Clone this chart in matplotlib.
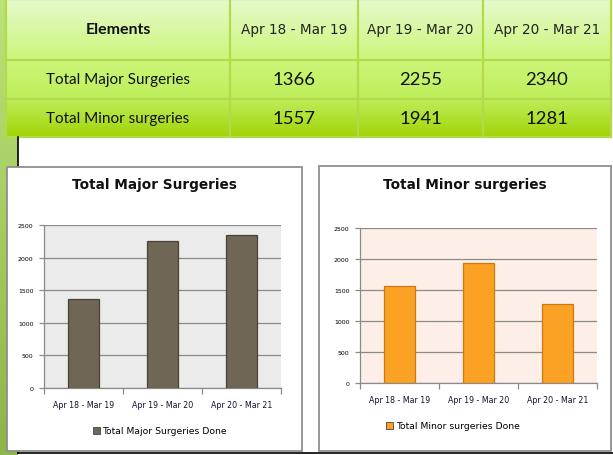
import matplotlib
matplotlib.use("Agg")
import matplotlib.pyplot as plt
import numpy as np
from matplotlib.patches import Rectangle

periods = ["Apr 18 - Mar 19", "Apr 19 - Mar 20", "Apr 20 - Mar 21"]
row_labels = ["Total Major Surgeries", "Total Minor surgeries"]
major = [1366, 2255, 2340]
minor = [1557, 1941, 1281]
header_first = "Elements"
title_major = "Total Major Surgeries"
title_minor = "Total Minor surgeries"
legend_major = "Total Major Surgeries Done"
legend_minor = "Total Minor surgeries Done"
yticks = [0, 500, 1000, 1500, 2000, 2500]

W, H = 613, 456
fig = plt.figure(figsize=(W / 100, H / 100), dpi=100)
fig.patch.set_facecolor("white")

bg = fig.add_axes([0, 0, 1, 1])
bg.set_xlim(0, W)
bg.set_ylim(H, 0)
bg.axis("off")

# left green strip
strip = np.zeros((100, 1, 3))
c_top = np.array([188, 226, 122]) / 255
c_bot = np.array([140, 182, 72]) / 255
for i in range(100):
    t = i / 99
    strip[i, 0] = c_top * (1 - t) + c_bot * t
bg.imshow(strip, extent=[0, 18, H, 0], aspect="auto", zorder=0)

# table gradient
stops_y = [0, 60, 100, 138]
stops_c = [np.array(c) / 255 for c in [(230, 249, 204), (204, 246, 122), (190, 238, 90), (162, 212, 8)]]
grad = np.zeros((139, 1, 3))
for y in range(139):
    for k in range(3):
        if stops_y[k] <= y <= stops_y[k + 1]:
            t = (y - stops_y[k]) / (stops_y[k + 1] - stops_y[k])
            grad[y, 0] = stops_c[k] * (1 - t) + stops_c[k + 1] * t
bg.imshow(grad, extent=[6, 611, 138, 0], aspect="auto", zorder=1)

col_x = [6, 230, 358, 483, 611]
row_y = [0, 61, 100, 138]
line_c = "#b4da4c"
for x in col_x[1:-1]:
    bg.plot([x, x], [0, 138], color=line_c, lw=1.6, zorder=2)
for y in row_y[1:-1]:
    bg.plot([6, 611], [y, y], color=line_c, lw=1.6, zorder=2)
bg.add_patch(Rectangle((6, 0), 605, 138, fill=False, ec=line_c, lw=1.6, zorder=2))

cx = [(col_x[i] + col_x[i + 1]) / 2 for i in range(4)]
cy = [30, 80, 119]
bg.text(cx[0], cy[0], header_first, ha="center", va="center", fontsize=11.5,
        fontweight="bold", family="Lato", color="#111111", zorder=3)
for j, p in enumerate(periods):
    bg.text(cx[j + 1], cy[0], p, ha="center", va="center", fontsize=9.8,
            family="DejaVu Sans", color="#222222", zorder=3)
for i, (lab, vals) in enumerate(zip(row_labels, [major, minor])):
    bg.text(cx[0], cy[i + 1], lab, ha="center", va="center", fontsize=11,
            family="Lato", color="#111111", zorder=3)
    for j, v in enumerate(vals):
        bg.text(cx[j + 1], cy[i + 1], str(v), ha="center", va="center", fontsize=13.3,
                family="Lato", color="#111111", zorder=3)

# black lines of slide
bg.plot([18, 18], [138, 454], color="black", lw=1.2, zorder=2)
bg.plot([18, W], [454, 454], color="black", lw=1.2, zorder=2)

# chart boxes
bg.add_patch(Rectangle((7, 168), 295, 284, fc="white", ec="#8f8f8f", lw=1.3, zorder=3))
bg.add_patch(Rectangle((319, 167), 292, 285, fc="white", ec="#8f8f8f", lw=1.3, zorder=3))


def px_axes(x0, x1, y0, y1):
    return fig.add_axes([x0 / W, (H - y1) / H, (x1 - x0) / W, (y1 - y0) / H])


def make_chart(ax, values, face, edge, bgc, title, tx, legend_label, ly, lx):
    x = np.arange(len(periods))
    ax.set_facecolor(bgc)
    ax.set_axisbelow(True)
    ax.yaxis.grid(True, color="#8a8a8a", lw=0.9)
    ax.bar(x, values, width=0.4, color=face, edgecolor=edge, lw=0.9, zorder=3)
    ax.set_xlim(-0.5, 2.5)
    ax.set_ylim(0, 2500)
    ax.set_yticks(yticks)
    ax.set_yticklabels([str(t) for t in yticks], fontsize=4.5, family="DejaVu Sans")
    ax.set_xticks(x)
    ax.set_xticklabels(periods, fontsize=5.7, family="DejaVu Sans", color="#111133")
    ax.set_xticks([-0.5, 0.5, 1.5, 2.5], minor=True)
    ax.tick_params(axis="x", which="major", length=0, pad=9)
    ax.tick_params(axis="x", which="minor", length=4, color="#8a8a8a", width=0.9, direction="out")
    ax.tick_params(axis="y", length=3.5, color="#8a8a8a", width=0.9, pad=4)
    for s in ["top", "right"]:
        ax.spines[s].set_visible(False)
    for s in ["left", "bottom"]:
        ax.spines[s].set_color("#8a8a8a")
        ax.spines[s].set_linewidth(0.9)
    bg.text(tx, 185, title, ha="center", va="center", fontsize=9.8, fontweight="bold",
            family="DejaVu Sans", color="#111111", zorder=5)
    handle = Rectangle((0, 0), 1, 1, fc=face, ec="#444444", lw=0.6)
    ax.legend([handle], [legend_label], loc="center",
              bbox_to_anchor=(lx / W, (H - ly) / H), bbox_transform=fig.transFigure,
              frameon=False, handlelength=0.75, handleheight=0.75,
              handletextpad=0.25, borderpad=0, prop={"family": "DejaVu Sans", "size": 6.7})


ax1 = px_axes(44, 281, 226, 389)
make_chart(ax1, major, "#6f6656", "#494236", "#ebebeb", title_major, 154,
           legend_major, 432, 160)
ax2 = px_axes(360, 597, 229, 384)
make_chart(ax2, minor, "#fba224", "#c97a12", "#fdefe7", title_minor, 465,
           legend_minor, 427, 453)

fig.savefig("out.png", dpi=100)
